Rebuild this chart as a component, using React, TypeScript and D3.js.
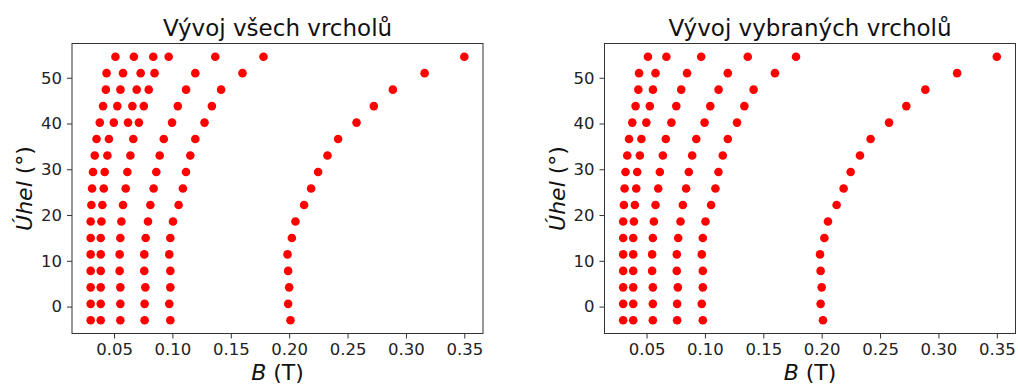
import React, { useRef, useEffect } from 'react';
import * as d3 from 'd3';

// Angle (deg) of each measured row, bottom to top
const angles = [-3, 0.6, 4.2, 7.8, 11.4, 15, 18.6, 22.2, 25.8, 29.4, 33, 36.6, 40.2, 43.8, 47.4, 51, 54.6];

// Peak positions B (T) per angle, one array per tracked peak
const peak1 = [0.030, 0.030, 0.030, 0.030, 0.030, 0.030, 0.030, 0.0306, 0.0312, 0.032, 0.0335, 0.035, 0.0378, 0.0406, 0.043, 0.0436, 0.0512];
const peak2 = [0.0386, 0.0386, 0.0386, 0.0386, 0.0386, 0.0386, 0.0392, 0.040, 0.0412, 0.042, 0.0443, 0.0456, 0.0498, 0.0528, 0.0555, 0.0577, 0.067];
const peak3 = [0.0554, 0.0554, 0.0554, 0.0548, 0.0548, 0.0554, 0.0563, 0.0577, 0.060, 0.0614, 0.064, 0.0665, 0.0713, 0.0755, 0.0797, 0.0847, 0.0968];
const peak4 = [0.0762, 0.0762, 0.0768, 0.0759, 0.0759, 0.0771, 0.0791, 0.0811, 0.0839, 0.0862, 0.0891, 0.0926, 0.0997, 0.1046, 0.1117, 0.1196, 0.1367];
const peak5 = [0.0982, 0.0973, 0.0982, 0.0982, 0.0973, 0.0982, 0.1005, 0.1053, 0.109, 0.1116, 0.1153, 0.1196, 0.1275, 0.1338, 0.1417, 0.160, 0.178];
const peak6 = [0.2011, 0.1991, 0.200, 0.1991, 0.1986, 0.2023, 0.2054, 0.2128, 0.2188, 0.2248, 0.2328, 0.2419, 0.2577, 0.2725, 0.2888, 0.316, 0.350];

// extra peak only present in the "all" plot (top rows)
const extraAngles = [40.2, 43.8, 47.4, 51, 54.6];
const extraPeak = [0.062, 0.0657, 0.0694, 0.0728, 0.0836];

const xTicks = [0.05, 0.10, 0.15, 0.20, 0.25, 0.30, 0.35];
const yTicks = [0, 10, 20, 30, 40, 50];

type Pt = { b: number; angle: number };

const toPoints = (vals: number[], ang: number[]): Pt[] => vals.map((b, i) => ({ b, angle: ang[i] }));

const selectedPoints: Pt[] = [peak1, peak2, peak3, peak4, peak5, peak6].flatMap(p => toPoints(p, angles));
const allPoints: Pt[] = [...selectedPoints, ...toPoints(extraPeak, extraAngles)];

const FONT = '"DejaVu Sans", sans-serif';

// matplotlib-like 5% margins
const padded = (ext: [number, number]): [number, number] => {
    const pad = (ext[1] - ext[0]) * 0.05;
    return [ext[0] - pad, ext[1] + pad];
};
const xDomain = padded(d3.extent(allPoints, d => d.b) as [number, number]);
const yDomain = padded(d3.extent(allPoints, d => d.angle) as [number, number]);

interface PanelProps {
    title: string;
    points: Pt[];
    left: number;
}

const TOP = 43.5;
const W = 411;
const H = 290;

const Panel: React.FC<PanelProps> = ({ title, points, left }) => {
    const gRef = useRef<SVGGElement | null>(null);

    useEffect(() => {
        if (!gRef.current) return;
        const g = d3.select(gRef.current);
        g.selectAll('*').remove();

        const x = d3.scaleLinear().domain(xDomain).range([0, W]);
        const y = d3.scaleLinear().domain(yDomain).range([H, 0]);

        // --- AXES ---
        const xAxis = g.append('g')
            .attr('transform', `translate(0, ${H})`)
            .call(d3.axisBottom(x).tickValues(xTicks).tickFormat(d3.format('.2f')).tickSize(5).tickPadding(5));
        const yAxis = g.append('g')
            .call(d3.axisLeft(y).tickValues(yTicks).tickFormat(d3.format('d')).tickSize(5).tickPadding(5));

        [xAxis, yAxis].forEach(a => {
            a.select('.domain').remove();
            a.selectAll('line').attr('stroke', '#333').attr('stroke-width', 1);
            a.selectAll('text')
                .attr('fill', '#222')
                .style('font-family', FONT)
                .style('font-size', '16.5px');
        });

        // --- FRAME ---
        g.append('rect')
            .attr('x', 0)
            .attr('y', 0)
            .attr('width', W)
            .attr('height', H)
            .attr('fill', 'none')
            .attr('stroke', '#333')
            .attr('stroke-width', 1);

        // --- POINTS ---
        g.append('g').selectAll('circle')
            .data(points)
            .join('circle')
            .attr('cx', d => x(d.b))
            .attr('cy', d => y(d.angle))
            .attr('r', 4.3)
            .attr('fill', '#ff0000');

        // --- TITLE ---
        g.append('text')
            .attr('x', W / 2)
            .attr('y', -8)
            .attr('text-anchor', 'middle')
            .style('font-family', FONT)
            .style('font-size', '23px')
            .attr('fill', '#111')
            .text(title);

        // --- AXIS LABELS ---
        const xl = g.append('text')
            .attr('x', W / 2)
            .attr('y', H + 46)
            .attr('text-anchor', 'middle')
            .style('font-family', FONT)
            .style('font-size', '22px')
            .attr('fill', '#111');
        xl.append('tspan').style('font-style', 'italic').text('B');
        xl.append('tspan').text(' (T)');

        const yl = g.append('text')
            .attr('transform', `translate(-40, ${H / 2}) rotate(-90)`)
            .attr('text-anchor', 'middle')
            .style('font-family', FONT)
            .style('font-size', '22px')
            .attr('fill', '#111');
        yl.append('tspan').style('font-style', 'italic').text('Úhel');
        yl.append('tspan').text(' (°)');
    }, [title, points, left]);

    return <g ref={gRef} transform={`translate(${left}, ${TOP})`} />;
};

const App: React.FC = () => {
    return (
        <div style={{ position: 'absolute', left: 0, top: 0, background: 'white' }}>
            <svg width={1018} height={386} style={{ display: 'block' }}>
                <rect width={1018} height={386} fill="white" />
                <Panel title="Vývoj všech vrcholů" points={allPoints} left={72} />
                <Panel title="Vývoj vybraných vrcholů" points={selectedPoints} left={604.5} />
            </svg>
        </div>
    );
};

export default App;
